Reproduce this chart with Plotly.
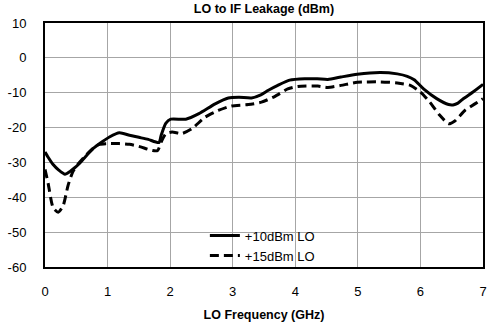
import plotly.graph_objects as go

x10 = [0.0, 0.05, 0.13, 0.22, 0.32, 0.40, 0.47, 0.55, 0.65, 0.77, 0.92, 1.03, 1.19, 1.35, 1.5, 1.65, 1.82,
       1.86, 1.93, 2.01, 2.25, 2.46, 2.72, 2.93, 3.1, 3.3, 3.45, 3.57, 3.72, 3.91, 4.15, 4.35, 4.52, 4.73,
       4.99, 5.36, 5.63, 5.79, 5.9, 6.05, 6.26, 6.45, 6.52, 6.6, 6.68, 6.84, 7.0]
y10 = [-27.0, -28.5, -30.6, -32.2, -33.4, -32.6, -31.6, -30.3, -28.3, -26.0, -24.0, -22.7, -21.5, -22.2, -22.8,
       -23.4, -24.3, -22.0, -18.8, -17.6, -17.6, -16.0, -13.2, -11.5, -11.3, -11.5, -10.6, -9.3, -7.9, -6.4,
       -6.0, -6.0, -6.2, -5.5, -4.7, -4.2, -4.6, -5.3, -6.3, -8.9, -11.7, -13.4, -13.5, -13.0, -11.8, -9.8, -7.6]

x15 = [0.0, 0.05, 0.13, 0.21, 0.29, 0.37, 0.45, 0.55, 0.65, 0.77, 0.87, 0.98, 1.19, 1.35, 1.5, 1.72, 1.8,
       1.86, 1.93, 2.03, 2.19, 2.35, 2.56, 2.77, 2.98, 3.25, 3.46, 3.67, 3.88, 4.04, 4.36, 4.52, 4.73, 4.99,
       5.36, 5.63, 5.84, 6.0, 6.15, 6.31, 6.45, 6.55, 6.71, 6.87, 7.0]
y15 = [-32.0, -36.0, -43.0, -44.3, -42.4, -36.5, -32.5, -30.0, -28.0, -26.0, -24.8, -24.6, -24.6, -24.8, -25.4,
       -26.6, -26.6, -24.0, -21.8, -21.3, -21.7, -20.3, -17.0, -15.1, -13.8, -13.4, -12.7, -11.1, -8.9, -8.2,
       -8.1, -8.5, -7.9, -7.0, -6.9, -7.2, -7.9, -9.8, -12.7, -16.5, -18.9, -18.1, -15.1, -13.2, -11.7]

names = ["+10dBm LO", "+15dBm LO"]
x_ticks = [0, 1, 2, 3, 4, 5, 6, 7]
y_ticks = [10, 0, -10, -20, -30, -40, -50, -60]

FONT = "Liberation Sans"

fig = go.Figure()
fig.add_trace(go.Scatter(x=x10, y=y10, mode="lines", name=names[0],
                         line=dict(color="black", width=3, shape="spline", smoothing=0.6)))
fig.add_trace(go.Scatter(x=x15, y=y15, mode="lines", name=names[1],
                         line=dict(color="black", width=3, dash="9px,5px", shape="spline", smoothing=0.6)))

# white area behind legend (covers gridlines)
fig.add_shape(type="rect", xref="x", yref="y", x0=2.01, x1=4.96, y0=-60, y1=-49.0,
              fillcolor="white", line=dict(width=0), layer="below")

fig.update_layout(
    width=490, height=328,
    margin=dict(l=45, r=3, t=23, b=61),
    paper_bgcolor="white", plot_bgcolor="white",
    font=dict(family=FONT, size=13, color="black"),
    title=dict(text="<b>LO to IF Leakage (dBm)</b>", x=0.5, xanchor="center", y=0.975, yanchor="middle",
               xref="paper", font=dict(family=FONT, size=12.5, color="black")),
    showlegend=True,
    legend=dict(x=0.365, y=-0.015, xanchor="left", yanchor="bottom", bgcolor="rgba(0,0,0,0)",
                font=dict(family=FONT, size=13, color="black"), tracegroupgap=0,
                itemwidth=30),
    xaxis=dict(range=[0, 7], tickvals=x_ticks, ticktext=[str(v) for v in x_ticks],
               showgrid=True, gridcolor="#a6a6a6", gridwidth=1,
               showline=True, linecolor="black", linewidth=2, mirror=True,
               ticks="", ticklabelstandoff=11, zeroline=False,
               title=dict(text="<b>LO Frequency (GHz)</b>", font=dict(family=FONT, size=12.5), standoff=13)),
    yaxis=dict(range=[-60, 10], tickvals=y_ticks, ticktext=[str(v) for v in y_ticks],
               showgrid=True, gridcolor="#a6a6a6", gridwidth=1,
               showline=True, linecolor="black", linewidth=2, mirror=True,
               ticks="", ticklabelstandoff=14, zeroline=False),
)

fig.write_html("out.html")
